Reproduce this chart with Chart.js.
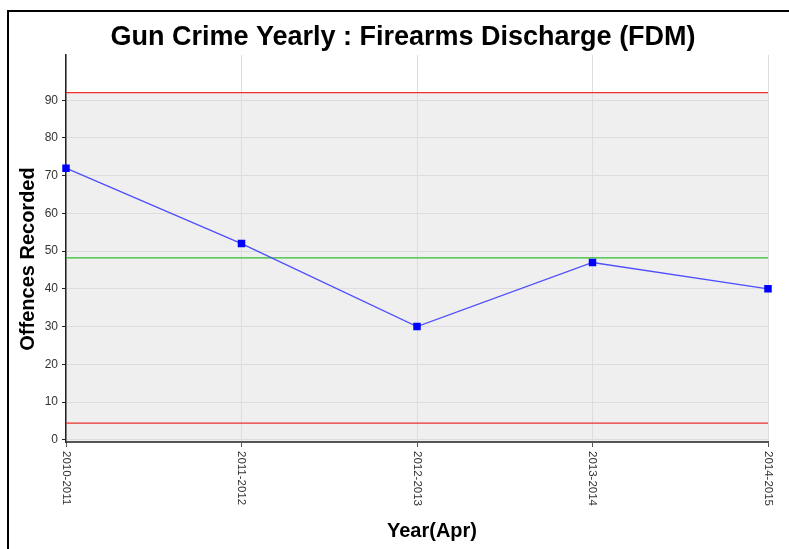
<!DOCTYPE html>
<html>
<head>
<meta charset="utf-8">
<script src="https://cdn.jsdelivr.net/npm/chart.js@4.4.1/dist/chart.umd.min.js"></script>
<style>
  html, body { margin: 0; padding: 0; background: #fff; }
  #wrap { width: 789px; height: 549px; }
</style>
</head>
<body>
<div id="wrap"><canvas id="chart" width="789" height="549"></canvas></div>
<script>
// --- DATA ---
const years = ['2010-2011', '2011-2012', '2012-2013', '2013-2014', '2014-2015'];
const offences = [72, 52, 30, 47, 40];
const meanLine = [48.2, 48.2, 48.2, 48.2, 48.2];
const upperLimit = [92, 92, 92, 92, 92];
const lowerLimit = [4.4, 4.4, 4.4, 4.4, 4.4];
const yTicks = [0, 10, 20, 30, 40, 50, 60, 70, 80, 90];

const titleText = 'Gun Crime Yearly : Firearms Discharge (FDM)';
const xTitle = 'Year(Apr)';
const yTitle = 'Offences Recorded';

// --- DRAWING HELPERS ---
const frameAndBackground = {
    id: 'frameAndBackground',
    beforeDraw(chart) {
        const { ctx, chartArea, scales } = chart;
        ctx.save();
        // grey band up to the upper limit
        const top = scales.y.getPixelForValue(upperLimit[0]);
        const bottom = scales.y.getPixelForValue(scales.y.min);
        ctx.fillStyle = '#efefef';
        ctx.fillRect(chartArea.left, top, chartArea.right - chartArea.left, bottom - top);
        // outer frame (right and bottom edges fall outside the picture)
        ctx.strokeStyle = '#000';
        ctx.lineWidth = 2;
        ctx.strokeRect(8, 11, 820, 600);
        ctx.restore();
    },
    afterDraw(chart) {
        const { ctx, scales } = chart;
        ctx.save();
        // title
        ctx.fillStyle = '#000';
        ctx.font = 'bold 27px "Liberation Sans", Arial, sans-serif';
        ctx.textAlign = 'center';
        ctx.textBaseline = 'middle';
        ctx.fillText(titleText, 403, 38);

        // x labels, reading top to bottom
        ctx.font = '11.5px "Liberation Sans", Arial, sans-serif';
        ctx.fillStyle = '#333';
        ctx.textAlign = 'left';
        years.forEach((label, i) => {
            const x = scales.x.getPixelForValue(i);
            ctx.save();
            ctx.translate(x, scales.x.top + 9);
            ctx.rotate(Math.PI / 2);
            ctx.fillText(label, 0, 0);
            ctx.restore();
        });

        // axis titles
        ctx.fillStyle = '#000';
        ctx.font = 'bold 20px "Liberation Sans", Arial, sans-serif';
        ctx.textAlign = 'center';
        ctx.fillText(xTitle, 432, 531);
        ctx.save();
        ctx.translate(28, 259);
        ctx.rotate(-Math.PI / 2);
        ctx.fillText(yTitle, 0, 0);
        ctx.restore();
        ctx.restore();
    }
};

// --- CHART ---
new Chart(document.getElementById('chart'), {
    type: 'line',
    data: {
        labels: years,
        datasets: [
            {
                label: 'Offences',
                data: offences,
                borderColor: '#4f4fff',
                backgroundColor: '#0000ff',
                borderWidth: 1.4,
                pointStyle: 'rect',
                pointRadius: 5.3,
                pointBorderWidth: 0,
                tension: 0
            },
            {
                label: 'Mean',
                data: meanLine,
                borderColor: '#2fbf2f',
                borderWidth: 1.3,
                pointRadius: 0
            },
            {
                label: 'Upper',
                data: upperLimit,
                borderColor: '#ee3030',
                borderWidth: 1.3,
                pointRadius: 0
            },
            {
                label: 'Lower',
                data: lowerLimit,
                borderColor: '#ee3030',
                borderWidth: 1.3,
                pointRadius: 0
            }
        ]
    },
    options: {
        responsive: false,
        animation: false,
        layout: { padding: { left: 18, right: 21, top: 55, bottom: 0 } },
        plugins: {
            legend: { display: false },
            tooltip: { enabled: false },
            title: { display: false }
        },
        scales: {
            x: {
                offset: false,
                afterFit(scale) { scale.height = 107; },
                ticks: { display: false },
                grid: { color: '#dddddd', tickColor: '#555', tickLength: 5 },
                border: { color: '#555', width: 2 }
            },
            y: {
                min: -0.6,
                max: 102,
                afterFit(scale) { scale.width = 48; },
                afterBuildTicks(scale) { scale.ticks = yTicks.map(v => ({ value: v })); },
                ticks: {
                    color: '#333',
                    padding: 4,
                    font: { family: '"Liberation Sans", Arial, sans-serif', size: 12 }
                },
                grid: { color: '#dddddd', tickColor: '#222', tickLength: 4 },
                border: { color: '#222', width: 1.5 }
            }
        }
    },
    plugins: [frameAndBackground]
});
</script>
</body>
</html>
